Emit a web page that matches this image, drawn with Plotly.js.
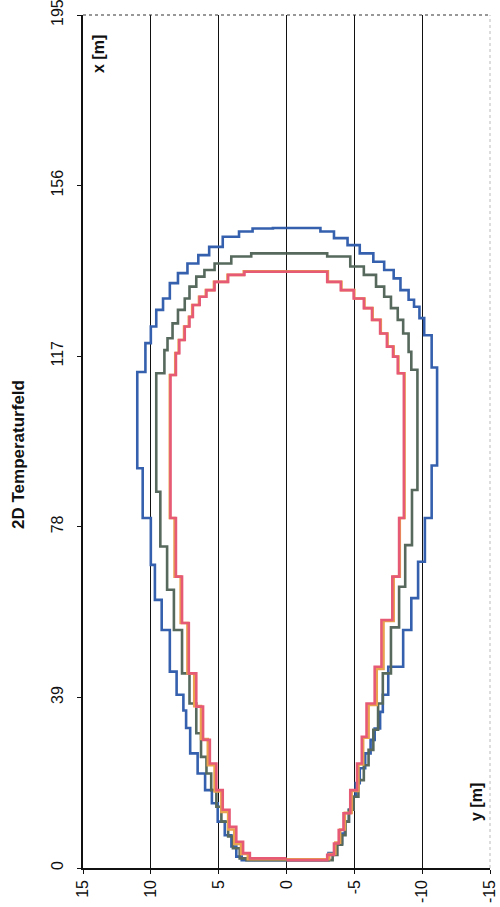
<!DOCTYPE html>
<html>
<head>
<meta charset="utf-8">
<script src="https://cdn.plot.ly/plotly-3.0.1.min.js"></script>
<style>html,body{margin:0;padding:0;background:#fff;}#chart{width:500px;height:907px;}</style>
</head>
<body>
<div id="chart"></div>
<script>
// axial position x [m] (vertical on page) and lateral position y [m] (horizontal on page)
const xTicks = [0, 39, 78, 117, 156, 195];
const yTicks = [15, 10, 5, 0, -5, -10, -15];

// Blue contour (outermost)
const blueLeftX = [1.8, 1.8, 2.6, 4.9, 7.5, 10.6, 14.8, 17.8, 21.6, 26.2, 32, 36, 39.6, 44.9, 54.4, 61.3, 69.3, 80, 91.4, 113.4, 120, 123.8, 127.6, 130.2, 133.7, 136, 138.2, 140.1, 142, 144.3, 145.5, 146.2, 146.3];
const blueLeftY = [0, 3.3, 3.7, 4.06, 4.55, 5.07, 5.5, 6.0, 6.55, 7.1, 7.4, 7.6, 8.1, 8.6, 9.2, 9.7, 10.0, 10.6, 11.0, 10.4, 10.0, 9.6, 9.1, 8.6, 8.0, 7.3, 6.5, 5.7, 4.7, 3.5, 2.5, 1.0, 0];
const blueRightX = [1.8, 1.8, 3.4, 5.6, 7.9, 10.6, 13.3, 16.3, 19.4, 22.8, 26.2, 29.3, 31.9, 35.7, 39.6, 46, 54.4, 61.7, 70, 80, 92, 114.4, 121.8, 125.7, 128.3, 129.9, 132.1, 134.8, 136.7, 138.6, 140.5, 142.4, 144, 145.5, 146.3];
const blueRightY = [0, -3.1, -3.7, -4.1, -4.3, -4.6, -4.8, -5.1, -5.4, -5.8, -6.2, -6.5, -6.9, -7.1, -7.5, -8.6, -9.2, -9.7, -10.2, -10.7, -11.1, -10.7, -10.15, -9.8, -9.4, -9.0, -8.4, -7.9, -7.2, -6.4, -5.4, -4.5, -3.5, -2.5, 0];

// Dark grey-green contour
const greenLeftX = [1.8, 1.8, 2.2, 4.5, 7.2, 10.6, 14, 17.8, 21.6, 25.4, 30.8, 37.6, 44.5, 54.4, 63.6, 73.5, 86, 113.1, 118.4, 121.1, 124.5, 127.6, 130.2, 132.9, 135.2, 136.7, 138.2, 139.8, 140.5];
const greenLeftY = [0, 2.95, 3.45, 3.95, 4.3, 4.8, 5.17, 5.55, 5.9, 6.3, 6.65, 7.15, 7.7, 8.3, 8.8, 9.3, 9.6, 9.0, 8.77, 8.4, 8.0, 7.5, 7.15, 6.65, 6.05, 5.3, 4.07, 2.6, 0];
const greenRightX = [1.8, 1.8, 3, 5.3, 7.5, 10.6, 13.3, 16.3, 20.1, 23.5, 27, 31.6, 37.6, 44.5, 55, 64.3, 73.8, 86.4, 113.9, 118, 122.2, 125.3, 128, 130.6, 132.9, 135.6, 137.5, 139.8, 140.5];
const greenRightY = [0, -3.4, -3.75, -4.1, -4.35, -4.6, -4.95, -5.3, -5.7, -6.05, -6.4, -6.75, -7.1, -7.7, -8.3, -8.75, -9.25, -9.65, -9.2, -9.0, -8.6, -8.2, -7.7, -7.2, -6.6, -5.7, -4.7, -3.0, 0];

// Orange contour (mostly under the red one)
const orangeLeftX = [2.0, 2.0, 3.2, 5.5, 8.8, 12.8, 17.5, 23.5, 29.5, 37, 44.5, 56, 66.6, 80, 112.7, 117.7, 120.7, 123.8, 126, 128.7, 130.6, 132.1, 134, 135.6, 136.4];
const orangeLeftY = [0, 2.85, 3.35, 3.85, 4.3, 4.8, 5.3, 5.8, 6.3, 6.8, 7.3, 7.8, 8.25, 8.6, 8.2, 7.95, 7.55, 7.2, 6.95, 6.45, 5.95, 5.35, 4.35, 3.15, 0];
const orangeRightX = [2.0, 2.0, 3.2, 5.8, 8.8, 12.6, 17.6, 23.7, 29.8, 37.3, 45.5, 56.5, 66.6, 80, 113.1, 116.9, 119.2, 122.2, 125.3, 128, 130.2, 132.1, 134, 136.4];
const orangeRightY = [0, -3.15, -3.6, -3.95, -4.3, -4.8, -5.3, -5.65, -6.05, -6.65, -7.15, -7.9, -8.35, -8.7, -8.25, -7.9, -7.45, -6.95, -6.35, -5.75, -5.0, -4.05, -3.05, 0];

// Red contour (innermost)
const redLeftX = [2.2, 2.2, 3.4, 6.0, 9.4, 13.3, 17.8, 23.9, 29.3, 36.9, 44.5, 56, 66.6, 80, 112.7, 117.7, 120.7, 123.8, 126, 128.7, 130.6, 132.1, 134, 135.6, 136.3];
const redLeftY = [0, 2.7, 3.2, 3.7, 4.2, 4.7, 5.17, 5.65, 6.15, 6.65, 7.2, 7.7, 8.15, 8.55, 8.15, 7.9, 7.5, 7.15, 6.9, 6.4, 5.9, 5.3, 4.3, 3.1, 0];
const redRightX = [1.8, 1.8, 3, 5.6, 8.7, 12.5, 17.8, 23.9, 30, 37.6, 46, 56.7, 66.6, 80, 113.1, 116.9, 119.2, 122.2, 125.3, 128, 130.2, 132.1, 134, 136.3];
const redRightY = [0, -3.0, -3.5, -3.85, -4.2, -4.7, -5.2, -5.55, -5.9, -6.5, -7.0, -7.8, -8.3, -8.65, -8.2, -7.85, -7.4, -6.9, -6.3, -5.7, -4.95, -4.0, -3.0, 0];

const contours = [
  {lx: blueLeftX, ly: blueLeftY, rx: blueRightX, ry: blueRightY, color: '#3560ad'},
  {lx: greenLeftX, ly: greenLeftY, rx: greenRightX, ry: greenRightY, color: '#56695c'},
  {lx: orangeLeftX, ly: orangeLeftY, rx: orangeRightX, ry: orangeRightY, color: '#e9a24e'},
  {lx: redLeftX, ly: redLeftY, rx: redRightX, ry: redRightY, color: '#e65a76'}
];

const traces = [];
contours.forEach(c => {
  [[c.ly, c.lx], [c.ry, c.rx]].forEach(([lat, ax]) => {
    traces.push({
      type: 'scatter', mode: 'lines', x: lat, y: ax,
      line: {color: c.color, width: 2.6, shape: 'vh'},
      hoverinfo: 'skip', showlegend: false
    });
  });
});

const FAM = 'Liberation Sans, Arial, sans-serif';
const tickFont = {family: FAM, size: 16, color: '#111'};
const layout = {
  width: 500, height: 907,
  margin: {l: 83, r: 10, t: 15, b: 39},
  paper_bgcolor: '#fff', plot_bgcolor: '#fff',
  showlegend: false,
  font: tickFont,
  xaxis: {
    range: [15, -15], tickvals: yTicks, ticktext: yTicks.map(String),
    tickangle: -90, showgrid: true, gridcolor: '#111', gridwidth: 1.1,
    zeroline: false, showline: true, linecolor: '#111', linewidth: 1.6,
    ticks: 'outside', ticklen: 4, tickcolor: '#111', tickfont: tickFont,
    ticklabeloverflow: 'allow'
  },
  yaxis: {
    range: [0, 195], tickvals: xTicks, ticktext: xTicks.map(String),
    tickangle: -90, showgrid: false, zeroline: false,
    showline: true, linecolor: '#111', linewidth: 1.6,
    ticks: 'outside', ticklen: 4, tickcolor: '#111', tickfont: tickFont,
    ticklabelstandoff: 8, ticklabeloverflow: 'allow'
  },
  shapes: [
    {type: 'line', xref: 'paper', yref: 'paper', x0: 0, x1: 1, y0: 1, y1: 1,
     line: {color: '#333', width: 1.2, dash: 'dot'}},
    {type: 'line', xref: 'paper', yref: 'paper', x0: 1, x1: 1, y0: 0, y1: 1,
     line: {color: '#bbb', width: 1, dash: 'dot'}}
  ],
  annotations: [
    {text: '<b>2D Temperaturfeld</b>', xref: 'paper', yref: 'paper',
     x: (19 - 83) / 407, y: (868 - 455) / 853, xanchor: 'center', yanchor: 'middle',
     textangle: -90, showarrow: false,
     font: {family: FAM, size: 17, color: '#111'}},
    {text: '<b>x [m]</b>', xref: 'paper', yref: 'paper',
     x: (98 - 83) / 407, y: (868 - 54) / 853, xanchor: 'center', yanchor: 'middle',
     textangle: -90, showarrow: false,
     font: {family: FAM, size: 16, color: '#111'}},
    {text: '<b>y [m]</b>', xref: 'paper', yref: 'paper',
     x: (476 - 83) / 407, y: (868 - 802) / 853, xanchor: 'center', yanchor: 'middle',
     textangle: -90, showarrow: false,
     font: {family: FAM, size: 16, color: '#111'}}
  ]
};

Plotly.newPlot('chart', traces, layout, {displayModeBar: false, staticPlot: true});
</script>
</body>
</html>
